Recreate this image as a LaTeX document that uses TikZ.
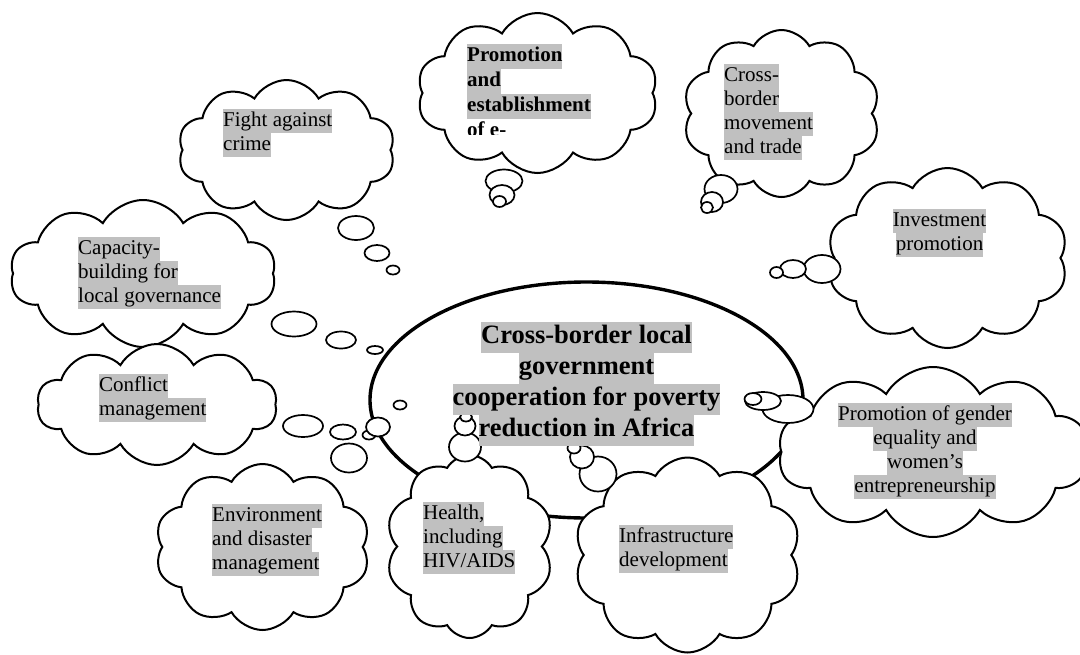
\documentclass[tikz,border=0pt]{standalone}
\usepackage{fontspec}
\setmainfont{Liberation Serif}
\usetikzlibrary{shapes.symbols,shapes.geometric}
\definecolor{hlgray}{RGB}{192,192,192}
\newcommand{\hl}[1]{{\setlength{\fboxsep}{0pt}\colorbox{hlgray}{\strut #1}}}
\tikzset{
  cloudbox/.style={cloud, cloud puffs=10, cloud puff arc=120, cloud ignores aspect,
    draw=black, line width=2pt, fill=white, inner sep=0pt},
  bub/.style={draw=black, line width=1.7pt, fill=white},
  lbl/.style={anchor=north west, inner sep=0pt, align=left, font=\fontsize{21}{24}\selectfont},
  clbl/.style={anchor=north, inner sep=0pt, align=center, font=\fontsize{21}{24}\selectfont},
}
\begin{document}
\begin{tikzpicture}[x=1pt,y=-1pt]
\useasboundingbox (0,0) rectangle (1080,654);
\fill[white] (0,0) rectangle (1080,654);
% central ellipse
\node[ellipse, draw=black, line width=3.4pt, fill=white, minimum width=433, minimum height=236, inner sep=0pt] (hub) at (586.5,400) {};

% clouds
\node[cloudbox, minimum width=217, minimum height=140] (fight) at (286.5,150) {};
\node[cloudbox, minimum width=241, minimum height=160] (promo) at (537.5,93) {};
\node[cloudbox, minimum width=197, minimum height=167] (cbm) at (781.5,113.5) {};
\node[cloudbox, minimum width=241, minimum height=180] (invest) at (947.5,258) {};
\node[cloudbox, minimum width=266, minimum height=147] (capacity) at (143,273.5) {};
\node[cloudbox, minimum width=240, minimum height=121] (conflict) at (157,404.5) {};
\node[cloudbox, minimum width=215, minimum height=166] (env) at (262.5,547) {};
\node[cloudbox, minimum width=167, minimum height=183] (health) at (469.5,546.5) {};
\node[cloudbox, minimum width=227, minimum height=195] (infra) at (687.5,555) {};
\node[cloudbox, minimum width=310, minimum height=170] (gender) at (933,452) {};

% thought bubbles
% fight
\draw[bub] (356,228) ellipse [x radius=18, y radius=12];
\draw[bub] (377,253) ellipse [x radius=12.5, y radius=8];
\draw[bub] (393,270) ellipse [x radius=6.5, y radius=4.5];
% capacity
\draw[bub] (294,324) ellipse [x radius=22.5, y radius=12.5];
\draw[bub] (341,340) ellipse [x radius=15, y radius=8.5];
\draw[bub] (375,350) ellipse [x radius=8, y radius=4];
% conflict
\draw[bub] (303,426) ellipse [x radius=20, y radius=11];
\draw[bub] (343,432) ellipse [x radius=13, y radius=7.5];
\draw[bub] (369,435) ellipse [x radius=6.5, y radius=4.5];
% environment
\draw[bub] (349,458) ellipse [x radius=18, y radius=14.5];
\draw[bub] (378,427) ellipse [x radius=12, y radius=9.5];
\draw[bub] (400,405) ellipse [x radius=6.5, y radius=4.5];
% health
\draw[bub] (465,447) ellipse [x radius=16, y radius=14.5];
\draw[bub] (465,426) ellipse [x radius=10.5, y radius=9.5];
\draw[bub] (466,417) ellipse [x radius=6, y radius=4.5];
% infrastructure
\draw[bub] (598,474) ellipse [x radius=18.5, y radius=17.5];
\draw[bub] (582,457) ellipse [x radius=12, y radius=11.5];
\draw[bub] (574,448) ellipse [x radius=6.5, y radius=5.5];
% gender
\draw[bub] (788,409) ellipse [x radius=25.5, y radius=14];
\draw[bub] (763,401) ellipse [x radius=18, y radius=9];
\draw[bub] (753,399) ellipse [x radius=8.5, y radius=6];
% investment
\draw[bub] (822,269) ellipse [x radius=18.5, y radius=14];
\draw[bub] (793,269) ellipse [x radius=13, y radius=9];
\draw[bub] (776.5,272.5) ellipse [x radius=6.5, y radius=5.5];
% cross-border movement
\draw[bub] (721,189) ellipse [x radius=16.5, y radius=14];
\draw[bub] (712,202) ellipse [x radius=11, y radius=10];
\draw[bub] (707,207.5) ellipse [x radius=6, y radius=5.5];
% promotion e-
\draw[bub] (504,181) ellipse [x radius=18.5, y radius=11.5];
\draw[bub] (502,195) ellipse [x radius=12.5, y radius=10];
\draw[bub] (499.5,201.5) ellipse [x radius=6.5, y radius=5.5];

% texts
\node[anchor=north, inner sep=0pt, align=center, font=\bfseries\fontsize{26.5}{31}\selectfont] (hubtxt) at (586.5,322)
  {\hl{Cross-border local}\\ \hl{government}\\ \hl{cooperation for poverty}\\ \hl{reduction in Africa}};
\node[lbl] (fighttxt) at (223,109) {\hl{Fight against}\\ \hl{crime}};
\begin{scope}
  \clip (460,40) rectangle (660,134);
  \node[lbl, font=\bfseries\fontsize{21}{25}\selectfont] (promotxt) at (467,44)
    {\hl{Promotion}\\ \hl{and}\\ \hl{establishment}\\ of e-};
\end{scope}
\node[lbl] (cbmtxt) at (724,64) {\hl{Cross-}\\ \hl{border}\\ \hl{movement}\\ \hl{and trade}};
\node[clbl] (investtxt) at (939.5,209) {\hl{Investment}\\ \hl{promotion}};
\node[lbl] (capacitytxt) at (78,237) {\hl{Capacity-}\\ \hl{building for}\\ \hl{local governance}};
\node[lbl] (conflicttxt) at (99,374) {\hl{Conflict}\\ \hl{management}};
\node[clbl] (gendertxt) at (925,403) {\hl{Promotion of gender}\\ \hl{equality and}\\ \hl{women’s}\\ \hl{entrepreneurship}};
\node[lbl] (envtxt) at (212,504) {\hl{Environment}\\ \hl{and disaster}\\ \hl{management}};
\node[lbl] (healthtxt) at (423,502) {\hl{Health,}\\ \hl{including}\\ \hl{HIV/AIDS}};
\node[lbl] (infratxt) at (619,525) {\hl{Infrastructure}\\ \hl{development}};
\end{tikzpicture}
\end{document}
